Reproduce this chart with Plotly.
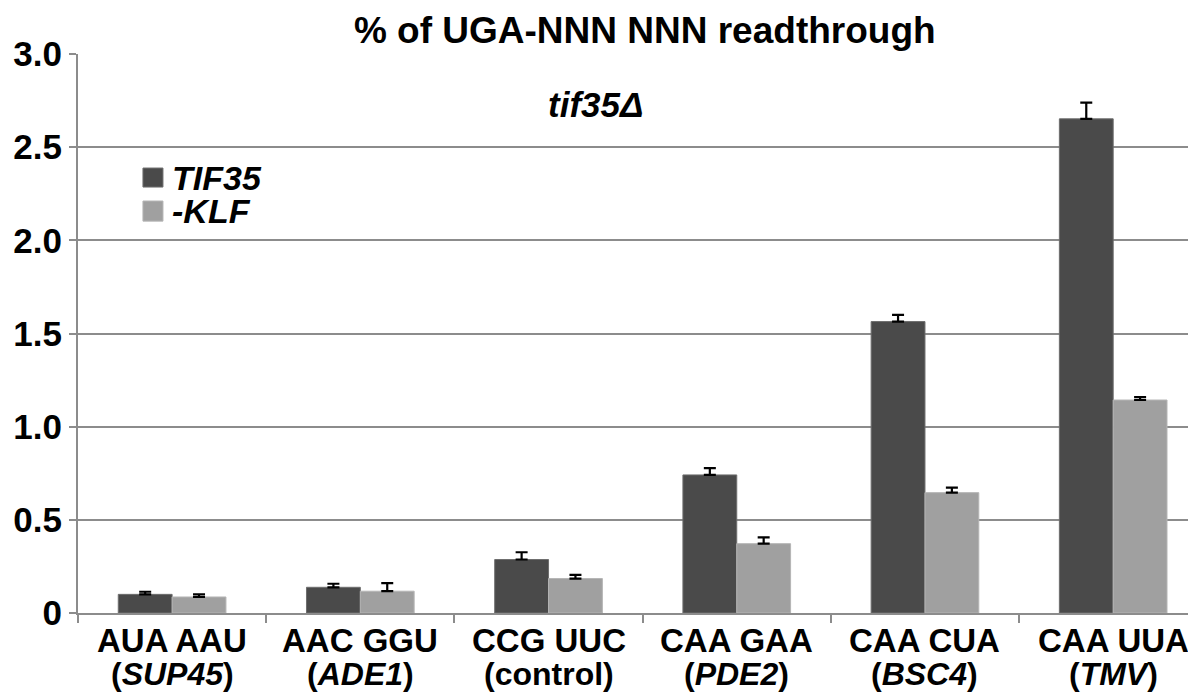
import plotly.graph_objects as go

codons = ["AUA AAU", "AAC GGU", "CCG UUC", "CAA GAA", "CAA CUA", "CAA UUA"]
genes = ["<i>SUP45</i>", "<i>ADE1</i>", "control", "<i>PDE2</i>", "<i>BSC4</i>", "<i>TMV</i>"]
tif35 = [0.100, 0.138, 0.287, 0.741, 1.564, 2.652]
tif35_err = [0.014, 0.019, 0.039, 0.036, 0.036, 0.087]
klf = [0.086, 0.117, 0.185, 0.372, 0.646, 1.143]
klf_err = [0.014, 0.043, 0.020, 0.034, 0.027, 0.016]
ytick_vals = [0, 0.5, 1.0, 1.5, 2.0, 2.5, 3.0]
ytick_text = ["0", "0.5", "1.0", "1.5", "2.0", "2.5", "3.0"]
series_names = ["<i>TIF35</i>", "<i>-KLF</i>"]
series_colors = ["#4a4a4a", "#a0a0a0"]
series_edges = ["#6e6e6e", "#b5b5b5"]

FONT = "Liberation Sans, Arial, sans-serif"

fig = go.Figure()
for vals, errs, name, col, edge in zip([tif35, klf], [tif35_err, klf_err],
                                       series_names, series_colors, series_edges):
    fig.add_trace(go.Bar(
        x=codons, y=vals, name=name,
        marker=dict(color=col, line=dict(color=edge, width=1)),
        error_y=dict(type="data", symmetric=False, array=errs,
                     arrayminus=[0] * len(errs), color="black", thickness=2.2, width=6),
    ))

annotations = []
shapes = []
for c, g in zip(codons, genes):
    annotations.append(dict(x=c, xref="x", y=-0.049, yref="paper", text=c,
                            showarrow=False, yanchor="middle",
                            font=dict(family=FONT, size=33, color="black", weight="bold")))
    annotations.append(dict(x=c, xref="x", y=-0.110, yref="paper", text="(" + g + ")",
                            showarrow=False, yanchor="middle",
                            font=dict(family=FONT, size=32, color="black", weight="bold")))
annotations.append(dict(x=0.463, xref="paper", y=0.909, yref="paper",
                        text="<i>tif35Δ</i>", showarrow=False, yanchor="middle",
                        xanchor="center",
                        font=dict(family=FONT, size=35, color="black", weight="bold")))

# legend (drawn manually to match the compact spacing)
leg_rows = [(0.796, 0.762, 0.779), (0.737, 0.701, 0.719)]
for (y1, y0, yc), name, col, edge in zip(leg_rows, series_names, series_colors, series_edges):
    shapes.append(dict(type="rect", xref="paper", yref="paper", x0=0.0581, x1=0.0760,
                       y0=y0, y1=y1, fillcolor=col, line=dict(color=edge, width=1)))
    annotations.append(dict(x=0.0823, xref="paper", y=yc, yref="paper", text=name,
                            showarrow=False, xanchor="left", yanchor="middle",
                            font=dict(family=FONT, size=34, color="black", weight="bold")))

fig.update_layout(
    width=1188, height=684,
    margin=dict(l=70, r=0, t=46, b=79),
    paper_bgcolor="white", plot_bgcolor="white",
    barmode="group", bargap=0.428, bargroupgap=0,
    title=dict(text="% of UGA-NNN NNN readthrough", x=0.536, xanchor="center",
               y=0.968, yanchor="middle",
               font=dict(family=FONT, size=37, color="black", weight="bold")),
    font=dict(family=FONT, color="black"),
    showlegend=False,
    xaxis=dict(type="category", range=[-0.5, 5.44], showticklabels=False,
               ticks="outside", tickson="boundaries", ticklen=8, tickwidth=2,
               tickcolor="#8c8c8c", showline=True, linecolor="#8c8c8c", linewidth=2,
               showgrid=False, zeroline=False),
    yaxis=dict(range=[0, 3.0], tickvals=ytick_vals, ticktext=ytick_text,
               ticks="outside", ticklen=7, tickwidth=2, tickcolor="#8c8c8c",
               showline=True, linecolor="#8c8c8c", linewidth=2,
               showgrid=True, gridcolor="#8c8c8c", gridwidth=2, zeroline=False,
               tickfont=dict(family=FONT, size=35, color="black", weight="bold")),
    annotations=annotations,
    shapes=shapes,
)

fig.write_html("out.html")
